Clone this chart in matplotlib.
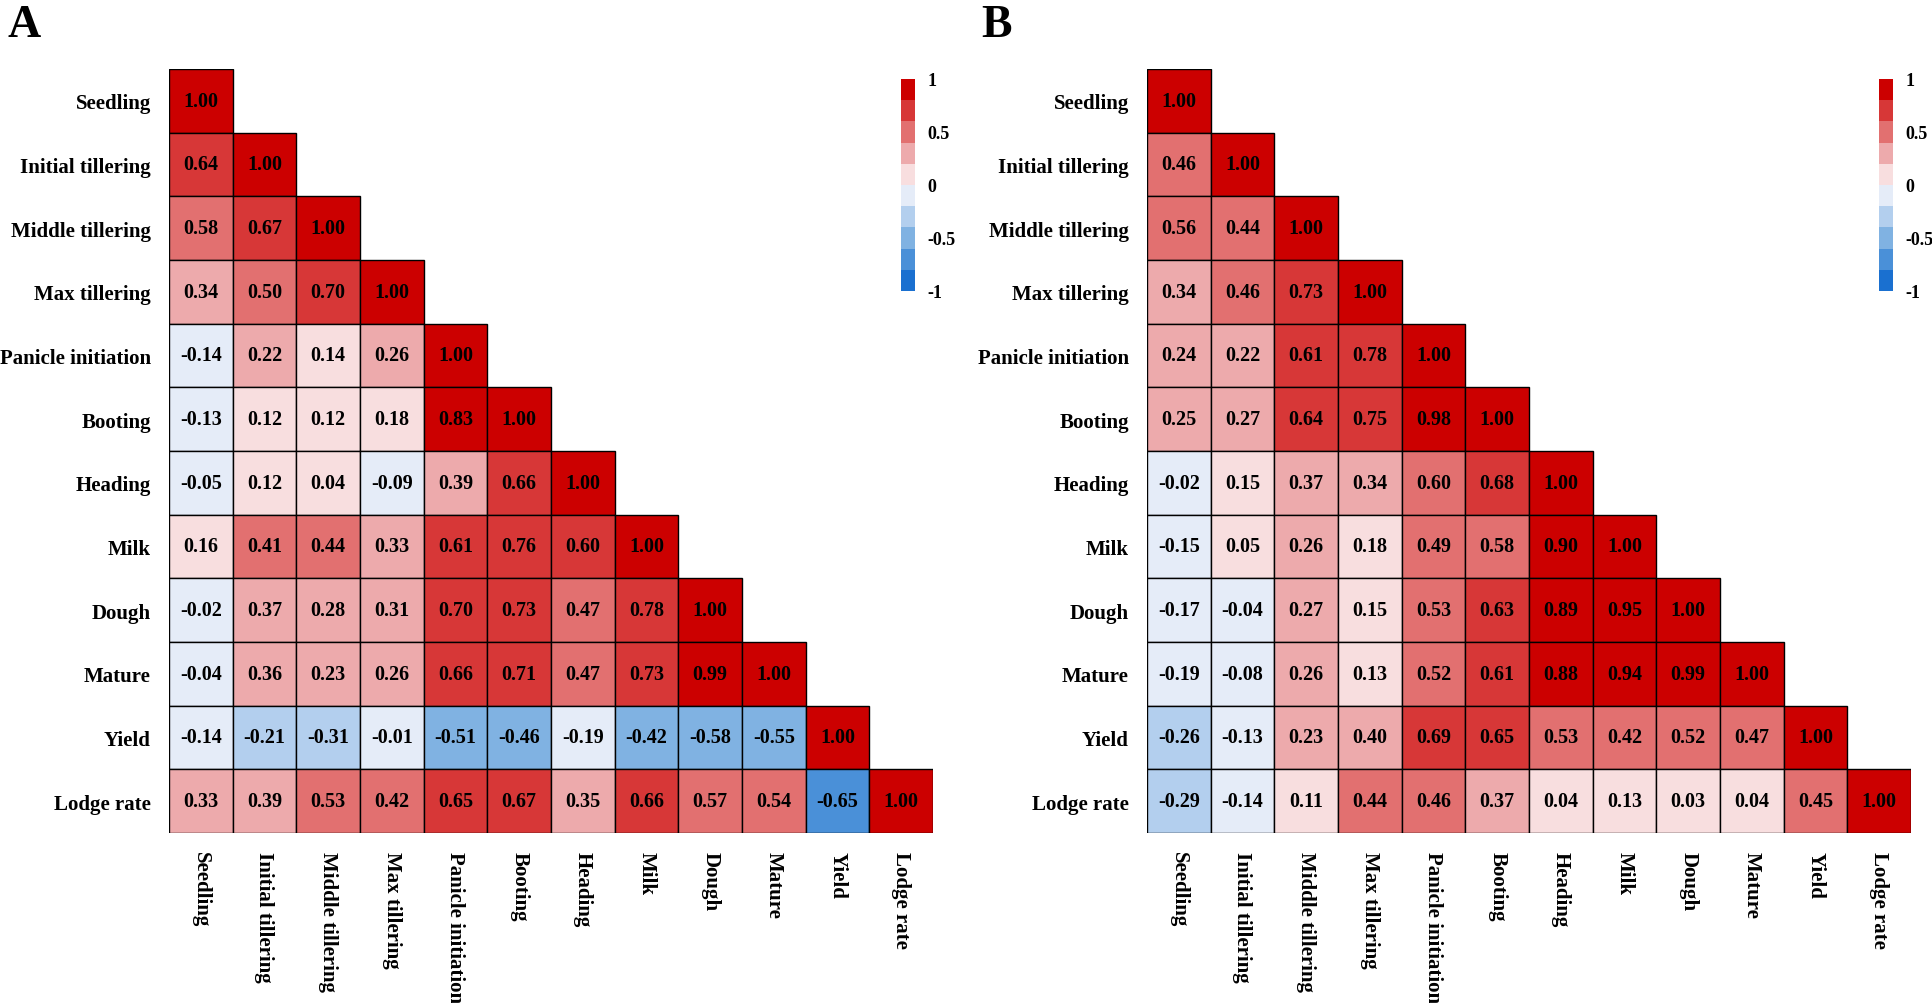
import numpy as np
import matplotlib
matplotlib.use("Agg")
import matplotlib.pyplot as plt
from matplotlib.colors import ListedColormap, BoundaryNorm
from matplotlib.colorbar import ColorbarBase
from matplotlib.patches import Rectangle

plt.rcParams['font.family'] = ['Liberation Serif', 'DejaVu Serif']
plt.rcParams['font.weight'] = 'bold'

# ---------------- DATA ----------------
stages = ["Seedling", "Initial tillering", "Middle tillering", "Max tillering",
          "Panicle initiation", "Booting", "Heading", "Milk", "Dough",
          "Mature", "Yield", "Lodge rate"]

# lower triangle rows (row i has i+1 values)
corr_a = [
    [1.00],
    [0.64, 1.00],
    [0.58, 0.67, 1.00],
    [0.34, 0.50, 0.70, 1.00],
    [-0.14, 0.22, 0.14, 0.26, 1.00],
    [-0.13, 0.12, 0.12, 0.18, 0.83, 1.00],
    [-0.05, 0.12, 0.04, -0.09, 0.39, 0.66, 1.00],
    [0.16, 0.41, 0.44, 0.33, 0.61, 0.76, 0.602, 1.00],
    [-0.02, 0.37, 0.28, 0.31, 0.70, 0.73, 0.47, 0.78, 1.00],
    [-0.04, 0.36, 0.23, 0.26, 0.66, 0.71, 0.47, 0.73, 0.99, 1.00],
    [-0.14, -0.21, -0.31, -0.01, -0.51, -0.46, -0.19, -0.42, -0.58, -0.55, 1.00],
    [0.33, 0.39, 0.53, 0.42, 0.65, 0.67, 0.35, 0.66, 0.57, 0.54, -0.65, 1.00],
]

corr_b = [
    [1.00],
    [0.46, 1.00],
    [0.56, 0.44, 1.00],
    [0.34, 0.46, 0.73, 1.00],
    [0.24, 0.22, 0.61, 0.78, 1.00],
    [0.25, 0.27, 0.64, 0.75, 0.98, 1.00],
    [-0.02, 0.15, 0.37, 0.34, 0.598, 0.68, 1.00],
    [-0.15, 0.05, 0.26, 0.18, 0.49, 0.58, 0.90, 1.00],
    [-0.17, -0.04, 0.27, 0.15, 0.53, 0.63, 0.89, 0.95, 1.00],
    [-0.19, -0.08, 0.26, 0.13, 0.52, 0.61, 0.88, 0.94, 0.99, 1.00],
    [-0.26, -0.13, 0.23, 0.40, 0.69, 0.65, 0.53, 0.42, 0.52, 0.47, 1.00],
    [-0.29, -0.14, 0.11, 0.44, 0.46, 0.37, 0.04, 0.13, 0.03, 0.04, 0.45, 1.00],
]

cbar_ticks = [-1, -0.5, 0, 0.5, 1]

# ---------------- STYLE ----------------
bin_colors = ["#1a70d0", "#4a90d8", "#80b2e2", "#b3cfee", "#e5ecf8",
              "#f8dedf", "#edaaac", "#e27070", "#d73737", "#cc0000"]
cmap = ListedColormap(bin_colors)
norm = BoundaryNorm(np.linspace(-1, 1, 11), cmap.N)


def draw_panel(ax, cax, rows, letter, letter_x):
    n = len(rows)
    for i, r in enumerate(rows):
        for j, v in enumerate(r):
            ax.add_patch(Rectangle((j, i), 1, 1, facecolor=cmap(norm(v)),
                                   edgecolor="black", linewidth=1.0))
            ax.text(j + 0.5, i + 0.5, f"{v:.2f}", ha="center", va="center",
                    fontsize=14.5, fontweight="bold")
    ax.set_xlim(0, n)
    ax.set_ylim(n, 0)
    ax.set_xticks(np.arange(n) + 0.5)
    ax.set_yticks(np.arange(n) + 0.5)
    ax.set_xticklabels(stages, rotation=270, fontsize=15, fontweight="bold", va="top")
    ax.set_yticklabels(stages, fontsize=15, fontweight="bold")
    ax.tick_params(length=0, pad=13)
    for s in ax.spines.values():
        s.set_visible(False)

    cb = ColorbarBase(cax, cmap=cmap, norm=norm, ticks=cbar_ticks)
    cb.outline.set_visible(False)
    cb.ax.minorticks_off()
    cb.ax.tick_params(which="both", length=0, pad=9)
    cb.ax.set_yticklabels(["%g" % t for t in cbar_ticks], fontsize=13, fontweight="bold")

    fig.text(letter_x, 0.995, letter, fontsize=33, fontweight="bold", ha="left", va="top")


W, H = 1932, 1004
fig = plt.figure(figsize=(W / 100, H / 100), dpi=100)

ax_a = fig.add_axes([169 / W, 1 - 834 / H, 764 / W, 764 / H])
cax_a = fig.add_axes([901 / W, 1 - 292 / H, 14 / W, 212 / H])
ax_b = fig.add_axes([1147 / W, 1 - 834 / H, 764 / W, 764 / H])
cax_b = fig.add_axes([1879 / W, 1 - 292 / H, 14 / W, 212 / H])

draw_panel(ax_a, cax_a, corr_a, "A", 8 / W)
draw_panel(ax_b, cax_b, corr_b, "B", 981 / W)

fig.savefig("out.png", dpi=100, facecolor="white")
